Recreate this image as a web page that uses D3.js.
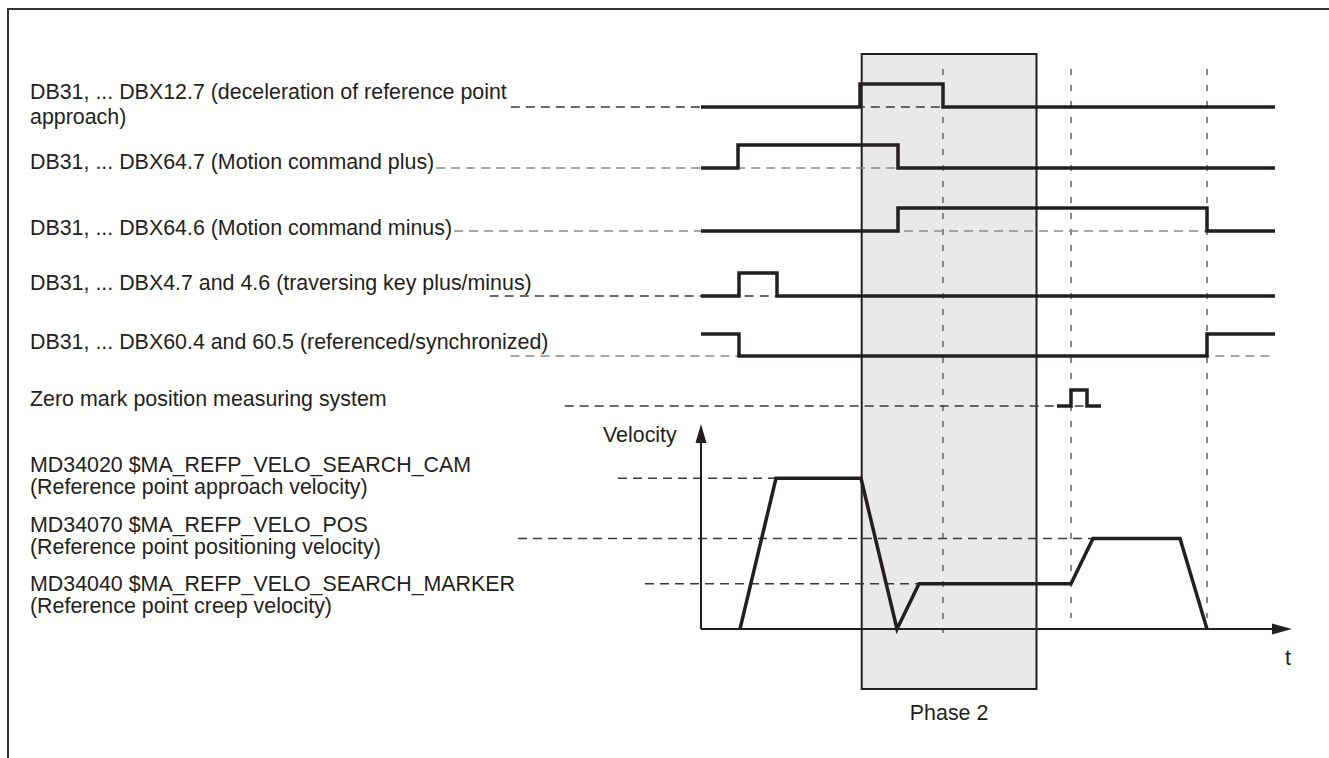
<!DOCTYPE html>
<html>
<head>
<meta charset="utf-8">
<script src="https://d3js.org/d3.v7.min.js"></script>
<style>
  body { margin: 0; background: #fff; }
  svg text { font-family: "Liberation Sans", Arial, sans-serif; font-size: 21.4px; fill: #231f20; }
</style>
</head>
<body>
<script>

// signal names, one array per row (second entry = wrapped line)
var signal_labels = [
  ["DB31, ... DBX12.7 (deceleration of reference point", "approach)"],
  ["DB31, ... DBX64.7 (Motion command plus)"],
  ["DB31, ... DBX64.6 (Motion command minus)"],
  ["DB31, ... DBX4.7 and 4.6 (traversing key plus/minus)"],
  ["DB31, ... DBX60.4 and 60.5 (referenced/synchronized)"],
  ["Zero mark position measuring system"]
];

// signal edges as [time, level], level 1 = high, last point = end of trace
var signal_steps = [
  [[0, 0], [15.9, 1], [24.2, 0], [57.4, 0]],
  [[0, 0], [3.7, 1], [19.7, 0], [57.4, 0]],
  [[0, 0], [19.7, 1], [50.6, 0], [57.4, 0]],
  [[0, 0], [3.8, 1], [7.6, 0], [57.4, 0]],
  [[0, 1], [3.8, 0], [50.6, 1], [57.4, 1]],
  [[35.6, 0], [37, 1], [38.6, 0], [40, 0]]
];

// velocity levels (approach = 100)
var velo_labels = [
  ["MD34020 $MA_REFP_VELO_SEARCH_CAM", "(Reference point approach velocity)"],
  ["MD34070 $MA_REFP_VELO_POS", "(Reference point positioning velocity)"],
  ["MD34040 $MA_REFP_VELO_SEARCH_MARKER", "(Reference point creep velocity)"]
];
var velo_levels = [100, 60, 30];

// velocity profile
var profile_times = [3.9, 7.5, 16, 19.6, 21.8, 37, 39.2, 47.9, 50.6];
var profile_values = [0, 100, 100, 0, 30, 30, 60, 60, 0];

// time markers (dashed verticals) and phase 2 window
var marker_times = [24.2, 37, 50.6];
var phase_times = [16.07, 33.55];
var phase_label = "Phase 2";

svg_width = 1329;
svg_height = 758;

// layout (pixels)
var row_low_y = [107, 168, 231, 296, 356, 406];
var row_high = [23, 23, 23, 23, 22, 16];
var row_text_y = [99, 169, 235, 290, 349, 406];
var row_dash_gap = [4, 2, 2, -42, -38, 178];
var row_dash_dark = [true, false, false, true, false, true];
var velo_text_y = [472, 532, 591];
var velo_dash_from = [618, 518, 645];
var marker_bottom = [633, 618, 618];

var dark = "#231f20";

var svg = d3.select("body")
    .append("svg")
    .attr("width", svg_width)
    .attr("height", svg_height);

// scales
var x_scale = d3.scaleLinear()
    .domain([0, 57.4])
    .range([701, 1275]);

var v_scale = d3.scaleLinear()
    .domain([0, 136])
    .range([629, 424]);

// frame
svg.append("path")
    .attr("d", "M8,758 V9 H1329")
    .attr("fill", "none")
    .attr("stroke", "#333")
    .attr("stroke-width", 2);

// phase 2 box fill
svg.append("rect")
    .attr("x", x_scale(phase_times[0]))
    .attr("y", 54)
    .attr("width", x_scale(phase_times[1]) - x_scale(phase_times[0]))
    .attr("height", 689 - 54)
    .attr("fill", "#e9e9e9");

// dashed time markers
svg.selectAll(".marker")
    .data(marker_times)
    .enter()
    .append("line")
    .attr("class", "marker")
    .attr("x1", function(d) { return x_scale(d); })
    .attr("x2", function(d) { return x_scale(d); })
    .attr("y1", 69)
    .attr("y2", function(d, i) { return marker_bottom[i]; })
    .attr("stroke", "#6b6b6b")
    .attr("stroke-width", 1.6)
    .attr("stroke-dasharray", "6,10");

// box outline
svg.append("rect")
    .attr("x", x_scale(phase_times[0]))
    .attr("y", 54)
    .attr("width", x_scale(phase_times[1]) - x_scale(phase_times[0]))
    .attr("height", 689 - 54)
    .attr("fill", "none")
    .attr("stroke", dark)
    .attr("stroke-width", 2);

svg.append("text")
    .attr("x", x_scale((phase_times[0] + phase_times[1]) / 2))
    .attr("y", 720)
    .attr("text-anchor", "middle")
    .text(phase_label);

// signal labels
var labels = svg.selectAll(".sig-label")
    .data(signal_labels)
    .enter()
    .append("text")
    .attr("class", "sig-label")
    .attr("x", 30)
    .attr("y", function(d, i) { return row_text_y[i]; });

labels.each(function(d, i) {
  var t = d3.select(this);
  d.forEach(function(line, j) {
    t.append("tspan")
      .attr("x", 30)
      .attr("dy", j == 0 ? 0 : 25)
      .text(line);
  });
});

// dashed baseline from the end of each label to the end of the trace
labels.each(function(d, i) {
  var first = d3.select(this).select("tspan").node();
  var end_x = 30 + first.getComputedTextLength() + row_dash_gap[i];
  var steps = signal_steps[i];
  svg.append("line")
    .attr("x1", end_x)
    .attr("x2", x_scale(steps[steps.length - 1][0]))
    .attr("y1", row_low_y[i])
    .attr("y2", row_low_y[i])
    .attr("stroke", row_dash_dark[i] ? "#3a3a3a" : "#8a8a8a")
    .attr("stroke-width", 1.5)
    .attr("stroke-dasharray", "9,6");
});

// signal traces
signal_steps.forEach(function(steps, i) {
  var line = d3.line()
      .x(function(d) { return x_scale(d[0]); })
      .y(function(d) { return row_low_y[i] - d[1] * row_high[i]; })
      .curve(d3.curveStepAfter);

  svg.append("path")
      .attr("d", line(steps))
      .attr("fill", "none")
      .attr("stroke", dark)
      .attr("stroke-width", 3.5);
});

// velocity labels
velo_labels.forEach(function(d, i) {
  var t = svg.append("text")
      .attr("x", 30)
      .attr("y", velo_text_y[i]);
  d.forEach(function(line, j) {
    t.append("tspan")
      .attr("x", 30)
      .attr("dy", j == 0 ? 0 : 22)
      .text(line);
  });
});

// velocity level guides, end where the profile reaches the level
svg.selectAll(".level")
    .data(velo_levels)
    .enter()
    .append("line")
    .attr("class", "level")
    .attr("x1", function(d, i) { return velo_dash_from[i]; })
    .attr("x2", function(d) {
      var k = profile_values.indexOf(d);
      return x_scale(profile_times[k]);
    })
    .attr("y1", function(d) { return v_scale(d); })
    .attr("y2", function(d) { return v_scale(d); })
    .attr("stroke", "#3a3a3a")
    .attr("stroke-width", 1.5)
    .attr("stroke-dasharray", "9,6");

// velocity axes with arrow heads
svg.append("line")
    .attr("x1", x_scale(0)).attr("x2", x_scale(0))
    .attr("y1", v_scale(0)).attr("y2", v_scale(124))
    .attr("stroke", dark).attr("stroke-width", 2);

svg.append("path")
    .attr("d", "M" + x_scale(0) + "," + v_scale(136) +
               " L" + (x_scale(0) - 5.5) + "," + (v_scale(136) + 19) +
               " L" + (x_scale(0) + 5.5) + "," + (v_scale(136) + 19) + " Z")
    .attr("fill", dark);

svg.append("line")
    .attr("x1", x_scale(0)).attr("x2", x_scale(57.4))
    .attr("y1", v_scale(0)).attr("y2", v_scale(0))
    .attr("stroke", dark).attr("stroke-width", 2);

svg.append("path")
    .attr("d", "M" + (x_scale(57.4) + 17) + "," + v_scale(0) +
               " L" + (x_scale(57.4) - 3) + "," + (v_scale(0) - 5.5) +
               " L" + (x_scale(57.4) - 3) + "," + (v_scale(0) + 5.5) + " Z")
    .attr("fill", dark);

svg.append("text")
    .attr("x", 603)
    .attr("y", 442)
    .text("Velocity");

svg.append("text")
    .attr("x", 1288)
    .attr("y", 665)
    .attr("text-anchor", "middle")
    .text("t");

// velocity profile
var profile = d3.line()
    .x(function(d, i) { return x_scale(profile_times[i]); })
    .y(function(d) { return v_scale(d); });

svg.append("path")
    .attr("d", profile(profile_values))
    .attr("fill", "none")
    .attr("stroke", dark)
    .attr("stroke-width", 3.5)
    .attr("stroke-linejoin", "miter");

</script>
</body>
</html>
